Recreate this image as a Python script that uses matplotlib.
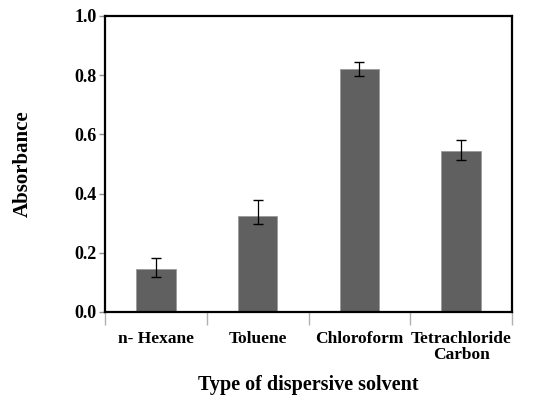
import matplotlib
matplotlib.use("Agg")
import matplotlib.pyplot as plt
import numpy as np

# data
solvents = ["n- Hexane", "Toluene", "Chloroform", "Tetrachloride\nCarbon"]
absorbance = [0.144, 0.324, 0.821, 0.544]
err_low = [0.025, 0.028, 0.025, 0.029]
err_high = [0.037, 0.055, 0.025, 0.037]

plt.rcParams["font.family"] = "Liberation Serif"
plt.rcParams["font.weight"] = "bold"

fig = plt.figure(figsize=(5.54, 3.96), dpi=100)
ax = fig.add_axes([105 / 554, 1 - 312 / 396, (512 - 105) / 554, (312 - 16) / 396])

x = np.arange(len(solvents))
ax.bar(x, absorbance, width=0.39, color="#606060", edgecolor="#9a9a9a", linewidth=0.6,
       yerr=[err_low, err_high], error_kw=dict(ecolor="black", elinewidth=0.9, capsize=3.5, capthick=1))

ax.set_xlim(-0.5, len(solvents) - 0.5)
ax.set_ylim(0, 1.0)
ax.set_yticks(np.arange(0, 1.01, 0.2))
ax.set_yticklabels(["%.1f" % v for v in np.arange(0, 1.01, 0.2)], fontsize=13, fontweight="bold")

# category labels centred, tick marks at the boundaries
ax.set_xticks(x)
ax.set_xticklabels(solvents, fontsize=12.5, fontweight="bold", linespacing=0.95)
ax.tick_params(axis="x", length=0, pad=14)
ax.set_xticks(np.arange(-0.5, len(solvents), 1), minor=True)
ax.tick_params(axis="x", which="minor", length=9, color="#b0b0b0", width=1)
ax.tick_params(axis="y", length=4, color="#909090", width=1, pad=2)

for s in ax.spines.values():
    s.set_linewidth(1.6)
    s.set_color("black")

ax.set_ylabel("Absorbance", fontsize=15, fontweight="bold", labelpad=30)
ax.set_xlabel("Type of dispersive solvent", fontsize=14.5, fontweight="bold", labelpad=8.5)

fig.savefig("out.png", dpi=100)
